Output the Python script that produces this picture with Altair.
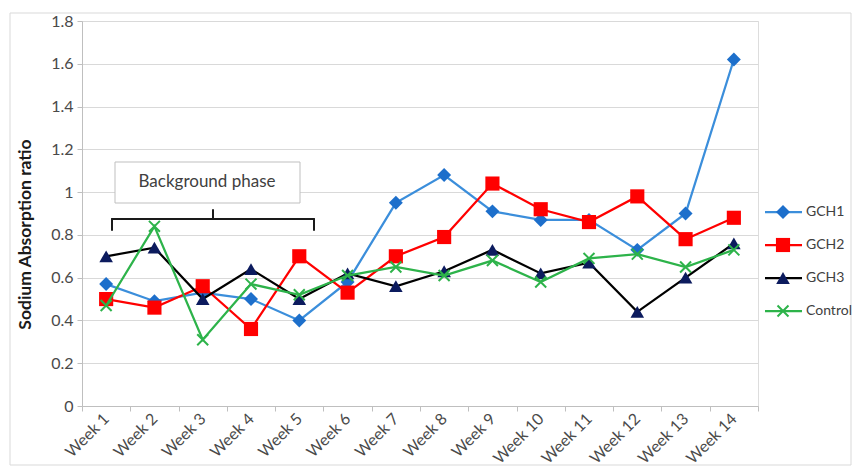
import altair as alt
import pandas as pd

# Weekly sodium absorption ratio per treatment group
weeks = ["Week 1", "Week 2", "Week 3", "Week 4", "Week 5", "Week 6", "Week 7",
         "Week 8", "Week 9", "Week 10", "Week 11", "Week 12", "Week 13", "Week 14"]
gch1 = [0.57, 0.49, 0.53, 0.50, 0.40, 0.58, 0.95, 1.08, 0.91, 0.87, 0.87, 0.73, 0.90, 1.62]
gch2 = [0.50, 0.46, 0.56, 0.36, 0.70, 0.53, 0.70, 0.79, 1.04, 0.92, 0.86, 0.98, 0.78, 0.88]
gch3 = [0.70, 0.74, 0.50, 0.64, 0.50, 0.62, 0.56, 0.63, 0.73, 0.62, 0.67, 0.44, 0.60, 0.76]
control = [0.47, 0.84, 0.31, 0.57, 0.52, 0.61, 0.65, 0.61, 0.68, 0.58, 0.69, 0.71, 0.65, 0.73]

series_names = ["GCH1", "GCH2", "GCH3", "Control"]
series_values = [gch1, gch2, gch3, control]
y_ticks = [0, 0.2, 0.4, 0.6, 0.8, 1.0, 1.2, 1.4, 1.6, 1.8]

# Styling
line_colors = ["#3B8EDB", "#FF0000", "#000000", "#2DB34A"]
marker_colors = ["#1D6FCB", "#FF0000", "#0C1B5E", "#2DB34A"]
marker_shapes = ["diamond", "square", "triangle-up", "M-1,-1L1,1M-1,1L1,-1"]
marker_sizes = [195, 200, 185, 120]
FONT = "Lato"
W, H = 676, 385

x_enc = alt.X(
    "week:N",
    sort=weeks,
    scale=alt.Scale(type="band", domain=weeks, paddingInner=0, paddingOuter=0),
    axis=alt.Axis(
        title=None, labelAngle=-45, labelAlign="right", labelBaseline="middle",
        labelFont=FONT, labelFontSize=16, labelColor="#4a4a4a", labelPadding=5,
        tickBand="extent", tickSize=5, tickColor="#bfbfbf", domainColor="#bfbfbf",
        grid=False,
    ),
)
y_enc = alt.Y(
    "value:Q",
    scale=alt.Scale(domain=[0, 1.8], nice=False, zero=True),
    axis=alt.Axis(
        values=y_ticks, format="~g", title="Sodium Absorption ratio",
        titleFont=FONT, titleFontSize=17.5, titleFontWeight="bold", titleColor="#1a1a1a",
        titleAngle=-90, titleX=-57, titleY=213, titleAlign="center", titleBaseline="middle",
        labelFont=FONT, labelFontSize=16, labelColor="#4a4a4a", labelPadding=4,
        tickSize=5, tickColor="#bfbfbf", domainColor="#bfbfbf",
        grid=True, gridColor="#d9d9d9",
    ),
)

one_row = pd.DataFrame({"k": [0]})

# Chart-area frame
frame = alt.Chart(one_row).mark_rect(fill="transparent", stroke="#d9d9d9", strokeWidth=1).encode(
    x=alt.value(-72), x2=alt.value(769), y=alt.value(-8), y2=alt.value(444)
)

# "Background phase" callout box and bracket
box = alt.Chart(one_row).mark_rect(fill="white", stroke="#bfbfbf", strokeWidth=1).encode(
    x=alt.value(33), x2=alt.value(218), y=alt.value(141), y2=alt.value(182)
)
box_text = alt.Chart(pd.DataFrame({"label": ["Background phase"]})).mark_text(
    font=FONT, fontSize=17, color="#404040", align="center", baseline="middle"
).encode(x=alt.value(125), y=alt.value(161), text="label:N")

bracket_style = dict(color="#1a1a1a", strokeWidth=2, strokeCap="round")
bracket = alt.layer(
    alt.Chart(one_row).mark_rule(**bracket_style).encode(
        x=alt.value(30), x2=alt.value(232), y=alt.value(198)),
    alt.Chart(one_row).mark_rule(**bracket_style).encode(
        x=alt.value(30), y=alt.value(198), y2=alt.value(209)),
    alt.Chart(one_row).mark_rule(**bracket_style).encode(
        x=alt.value(232), y=alt.value(198), y2=alt.value(209)),
    alt.Chart(one_row).mark_rule(**bracket_style).encode(
        x=alt.value(131), y=alt.value(189), y2=alt.value(198)),
)

# Series lines with markers, drawn in series order
series_layers = []
for name, vals, lc, mc, shp, sz in zip(series_names, series_values, line_colors,
                                       marker_colors, marker_shapes, marker_sizes):
    df = pd.DataFrame({"week": weeks, "value": vals, "series": name})
    base = alt.Chart(df)
    line = base.mark_line(color=lc, strokeWidth=2.25).encode(x=x_enc, y=y_enc)
    if name == "Control":
        pts = base.mark_point(shape=shp, filled=False, size=sz, color=mc,
                              strokeWidth=2, opacity=1).encode(x=x_enc, y=y_enc)
    else:
        pts = base.mark_point(shape=shp, filled=True, size=sz, color=mc,
                              opacity=1).encode(x=x_enc, y=y_enc)
    series_layers += [line, pts]

# Legend entries on the right
legend_layers = []
for i, (name, lc, mc, shp, sz) in enumerate(zip(series_names, line_colors, marker_colors,
                                               marker_shapes, marker_sizes)):
    ly = 191 + 33 * i
    ldf = pd.DataFrame({"series": [name]})
    legend_layers.append(
        alt.Chart(ldf).mark_rule(color=lc, strokeWidth=2.25).encode(
            x=alt.value(683), x2=alt.value(720), y=alt.value(ly)))
    if name == "Control":
        legend_layers.append(
            alt.Chart(ldf).mark_point(shape=shp, filled=False, size=sz, color=mc,
                                      strokeWidth=2, opacity=1).encode(
                x=alt.value(701), y=alt.value(ly)))
    else:
        legend_layers.append(
            alt.Chart(ldf).mark_point(shape=shp, filled=True, size=sz, color=mc,
                                      opacity=1).encode(
                x=alt.value(701), y=alt.value(ly)))
    legend_layers.append(
        alt.Chart(ldf).mark_text(font=FONT, fontSize=14, color="#404040",
                                 align="left", baseline="middle").encode(
            x=alt.value(724), y=alt.value(ly), text="series:N"))

chart = alt.layer(
    frame, box, box_text, bracket, *series_layers, *legend_layers
).properties(
    width=W, height=H,
    padding={"left": 82, "top": 21, "right": 102, "bottom": 65},
    autosize=alt.AutoSizeParams(type="none"),
).configure_view(stroke=None).configure(background="white")

chart.save("out.html", embed_options={"renderer": "svg", "actions": False})
